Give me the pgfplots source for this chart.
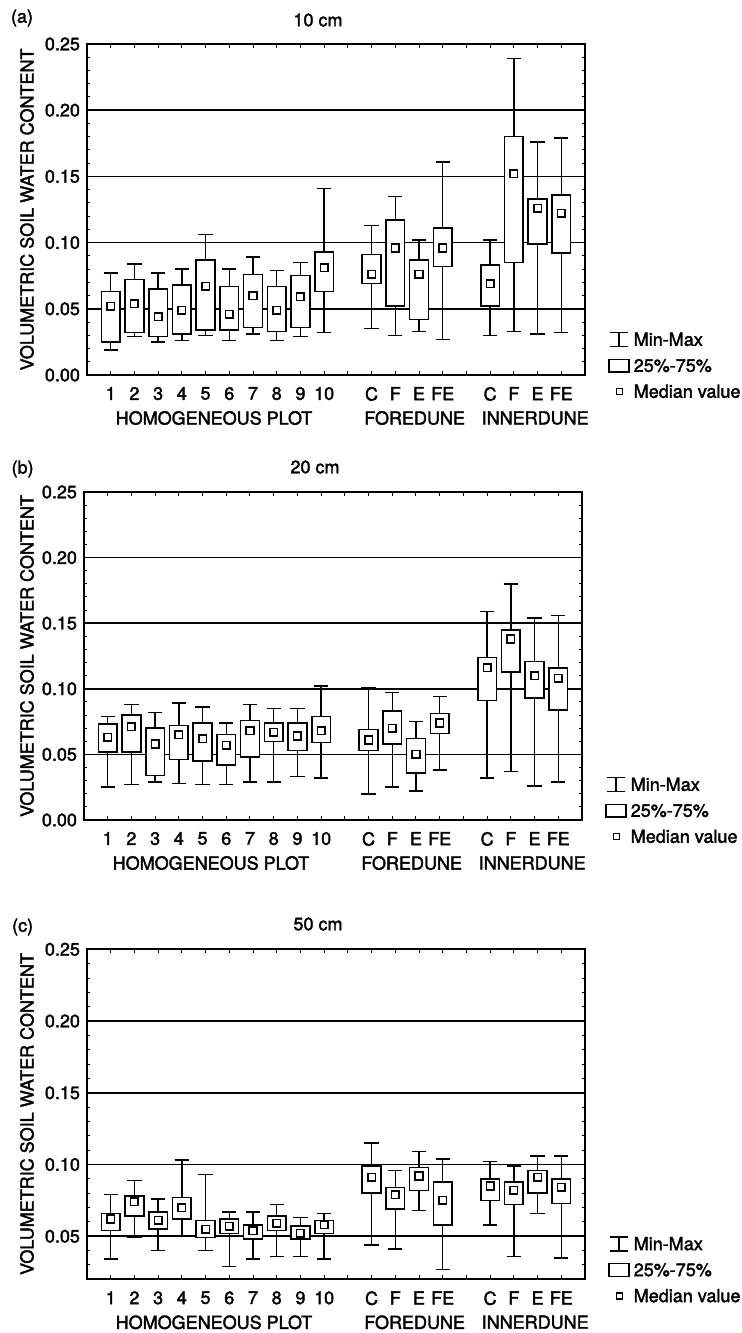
\documentclass[border=0pt]{standalone}
\usepackage{fontspec}
\setmainfont{TeX Gyre Heros}[FakeBold=2]
\usepackage{pgfplots}
\pgfplotsset{compat=1.18}
\usepgfplotslibrary{statistics}

\newcommand{\lab}{\fontsize{9}{11}\selectfont}
% position, min, q1, median, q3, max
\newcommand{\bx}[6]{\addplot[forget plot, black, line width=0.75pt,
  boxplot prepared={draw position=#1, lower whisker=#2, lower quartile=#3,
  median=#4, upper quartile=#5, upper whisker=#6}] coordinates {};}

\pgfplotsset{
  panel/.style={
    scale only axis, width=249pt, height=165.5pt,
    xmin=0, xmax=21, ymin=0, ymax=0.25,
    xtick={1,...,20},
    xticklabels={1,2,3,4,5,6,7,8,9,10,,C,F,E,FE,,C,F,E,FE},
    ytick={0,0.05,0.1,0.15,0.2,0.25},
    minor ytick={0,0.01,...,0.25},
    tick align=inside, major tick length=2pt, minor tick length=1.5pt,
    xtick pos=both, ytick pos=both,
    ymajorgrids, major grid style={black, line width=0.85pt},
    axis line style={line width=1.1pt},
    tick style={black, line width=0.5pt},
    yticklabel style={/pgf/number format/.cd, fixed, fixed zerofill, precision=2},
    /pgf/number format/assume math mode=true,
    tick label style={font=\lab},
    xticklabel style={yshift=-2.5pt},
    clip=false,
    boxplot/draw direction=y,
    boxplot/box extend=0.79,
    boxplot/whisker extend=0.6,
    boxplot/every box/.style={fill=white},
    boxplot/draw/median/.code={\node[draw, fill=white, line width=0.8pt, minimum size=3.8pt, inner sep=0pt] at (boxplot box cs:\pgfplotsboxplotvalue{median},0.5) {};},
    legend style={draw=none, fill=none, font=\lab, at={(1,0)}, anchor=south west,
      xshift=8.5pt, yshift=-16pt, row sep=2pt, cells={anchor=west},
      nodes={inner sep=2pt, text height=6.6pt, text depth=0.4pt}},
  }
}

\newcommand{\legendstuff}{%
  \addlegendimage{black, legend image code/.code={\path[draw=none] (0pt,-4pt) rectangle (10pt,4pt); \draw[black, line width=0.7pt] (0.5pt,3.5pt)--(9.5pt,3.5pt) (5pt,3.5pt)--(5pt,-3.5pt) (0.5pt,-3.5pt)--(9.5pt,-3.5pt);}}
  \addlegendentry{Min-Max}
  \addlegendimage{black, legend image code/.code={\path[draw=none] (0pt,-4pt) rectangle (10pt,4pt); \draw[black, line width=0.7pt] (0pt,-3.2pt) rectangle (10pt,3.2pt);}}
  \addlegendentry{25\%-75\%}
  \addlegendimage{black, legend image code/.code={\path[draw=none] (0pt,-4pt) rectangle (10pt,4pt); \draw[black, line width=0.7pt] (3.6pt,-1.5pt) rectangle (6.6pt,1.5pt);}}
  \addlegendentry{Median value}
}

\newcommand{\groups}{%
  \node[font=\lab, yshift=-21.5pt] at (rel axis cs:0.255,0) {HOMOGENEOUS PLOT};
  \node[font=\lab, yshift=-21.5pt] at (rel axis cs:0.658,0) {FOREDUNE};
  \node[font=\lab, yshift=-21.5pt] at (rel axis cs:0.900,0) {INNERDUNE};
}

\begin{document}
\begin{tikzpicture}
\path[use as bounding box] (0,0) rectangle (370.5pt,-666.5pt);

% (a) 10 cm
\node[font=\lab] at (11pt,-9pt) {(a)};
\node[font=\lab] at (159pt,-10pt) {10 cm};
\node[font=\lab, rotate=90] at (13.5pt,-104.75pt) {VOLUMETRIC SOIL WATER CONTENT};
\begin{axis}[panel, at={(43.5pt,-187.5pt)}, anchor=south west]
\legendstuff
\bx{1}{0.019}{0.025}{0.052}{0.063}{0.077}
\bx{2}{0.029}{0.032}{0.054}{0.072}{0.084}
\bx{3}{0.025}{0.029}{0.044}{0.065}{0.077}
\bx{4}{0.026}{0.031}{0.049}{0.068}{0.080}
\bx{5}{0.030}{0.034}{0.067}{0.087}{0.106}
\bx{6}{0.026}{0.034}{0.046}{0.067}{0.080}
\bx{7}{0.031}{0.036}{0.060}{0.076}{0.089}
\bx{8}{0.026}{0.033}{0.049}{0.067}{0.079}
\bx{9}{0.029}{0.036}{0.059}{0.075}{0.085}
\bx{10}{0.032}{0.063}{0.081}{0.093}{0.141}
\bx{12}{0.035}{0.069}{0.076}{0.091}{0.113}
\bx{13}{0.030}{0.052}{0.096}{0.117}{0.135}
\bx{14}{0.033}{0.042}{0.076}{0.087}{0.102}
\bx{15}{0.027}{0.082}{0.096}{0.111}{0.161}
\bx{17}{0.030}{0.052}{0.069}{0.083}{0.102}
\bx{18}{0.033}{0.085}{0.152}{0.180}{0.239}
\bx{19}{0.031}{0.099}{0.126}{0.133}{0.176}
\bx{20}{0.032}{0.092}{0.122}{0.136}{0.179}
\groups
\end{axis}

% (b) 20 cm
\node[font=\lab] at (11.3pt,-234.5pt) {(b)};
\node[font=\lab] at (157.5pt,-233.5pt) {20 cm};
\node[font=\lab, rotate=90] at (13.5pt,-328pt) {VOLUMETRIC SOIL WATER CONTENT};
\begin{axis}[panel, at={(42pt,-410pt)}, anchor=south west, height=164pt]
\legendstuff
\bx{1}{0.025}{0.052}{0.063}{0.073}{0.079}
\bx{2}{0.027}{0.052}{0.071}{0.080}{0.088}
\bx{3}{0.029}{0.034}{0.058}{0.070}{0.082}
\bx{4}{0.028}{0.046}{0.065}{0.072}{0.089}
\bx{5}{0.027}{0.045}{0.062}{0.074}{0.086}
\bx{6}{0.027}{0.042}{0.057}{0.065}{0.074}
\bx{7}{0.029}{0.048}{0.068}{0.076}{0.088}
\bx{8}{0.029}{0.060}{0.067}{0.074}{0.085}
\bx{9}{0.033}{0.053}{0.064}{0.074}{0.085}
\bx{10}{0.032}{0.059}{0.068}{0.079}{0.102}
\bx{12}{0.020}{0.053}{0.061}{0.069}{0.101}
\bx{13}{0.025}{0.058}{0.070}{0.083}{0.097}
\bx{14}{0.022}{0.036}{0.050}{0.062}{0.075}
\bx{15}{0.038}{0.066}{0.074}{0.081}{0.094}
\bx{17}{0.032}{0.091}{0.116}{0.124}{0.159}
\bx{18}{0.037}{0.113}{0.138}{0.145}{0.180}
\bx{19}{0.026}{0.093}{0.110}{0.121}{0.154}
\bx{20}{0.029}{0.084}{0.108}{0.116}{0.156}
\groups
\end{axis}

% (c) 50 cm
\node[font=\lab] at (11.3pt,-463.5pt) {(c)};
\node[font=\lab] at (159pt,-462pt) {50 cm};
\node[font=\lab, rotate=90] at (13.5pt,-557pt) {VOLUMETRIC SOIL WATER CONTENT};
\begin{axis}[panel, at={(43.5pt,-639.65pt)}, anchor=south west, height=165pt,
  ymin=0.02, ytick={0.05,0.1,0.15,0.2,0.25}, minor ytick={0.02,0.03,...,0.25}]
\legendstuff
\bx{1}{0.034}{0.054}{0.062}{0.066}{0.079}
\bx{2}{0.049}{0.064}{0.074}{0.078}{0.089}
\bx{3}{0.040}{0.055}{0.061}{0.067}{0.076}
\bx{4}{0.050}{0.062}{0.070}{0.077}{0.103}
\bx{5}{0.040}{0.049}{0.055}{0.061}{0.093}
\bx{6}{0.029}{0.052}{0.057}{0.062}{0.067}
\bx{7}{0.034}{0.048}{0.054}{0.058}{0.067}
\bx{8}{0.036}{0.054}{0.059}{0.064}{0.072}
\bx{9}{0.036}{0.048}{0.052}{0.057}{0.063}
\bx{10}{0.034}{0.052}{0.058}{0.061}{0.066}
\bx{12}{0.044}{0.080}{0.091}{0.099}{0.115}
\bx{13}{0.041}{0.069}{0.079}{0.084}{0.096}
\bx{14}{0.068}{0.082}{0.092}{0.098}{0.109}
\bx{15}{0.027}{0.058}{0.075}{0.088}{0.104}
\bx{17}{0.058}{0.075}{0.085}{0.090}{0.102}
\bx{18}{0.036}{0.072}{0.082}{0.088}{0.099}
\bx{19}{0.066}{0.080}{0.091}{0.096}{0.106}
\bx{20}{0.035}{0.073}{0.084}{0.090}{0.106}
\groups
\end{axis}
\end{tikzpicture}
\end{document}
